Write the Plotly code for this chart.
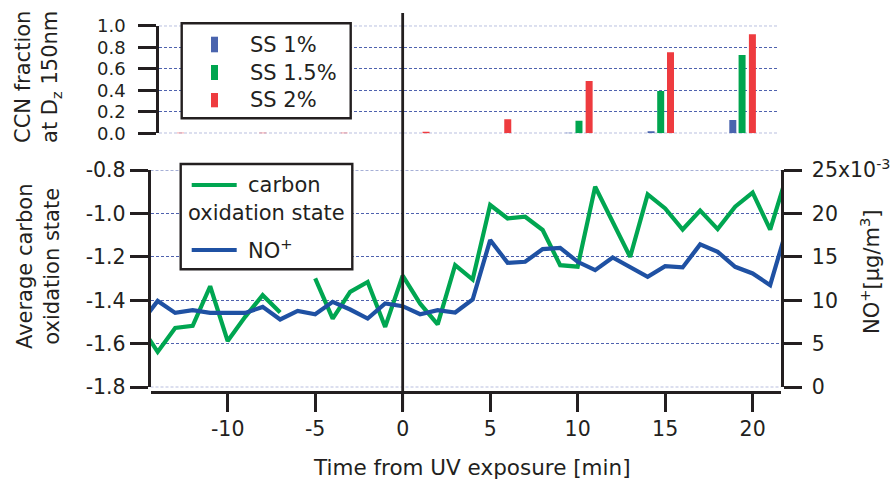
import plotly.graph_objects as go

# ---- data -------------------------------------------------------------
# time axis of the AMS series (minutes from UV exposure)
minutes = list(range(-15, 23))

# average carbon oxidation state (None = missing sample)
carbon_ox = [-1.515, -1.637, -1.527, -1.517, -1.335, -1.587, -1.476, -1.376,
             -1.456, None, -1.299, -1.484, -1.361, -1.315, -1.522, -1.286,
             -1.415, -1.510, -1.238, -1.304, -0.961, -1.023, -1.015, -1.076,
             -1.238, -1.245, -0.877, -1.038, -1.200, -0.912, -0.977, -1.074,
             -0.987, -1.072, -0.969, -0.904, -1.074, -0.813]

# NO+ mass concentration [ug/m3]
no_plus = [0.00728, 0.00994, 0.00856, 0.00887, 0.00856, 0.00856, 0.00856,
           0.00925, 0.00780, 0.00879, 0.00841, 0.00983, 0.00895, 0.00791,
           0.00964, 0.00933, 0.00841, 0.00887, 0.00860, 0.01010, 0.01694,
           0.01432, 0.01444, 0.01590, 0.01605, 0.01444, 0.01348, 0.01494,
           0.01379, 0.01271, 0.01394, 0.01379, 0.01644, 0.01559, 0.01386,
           0.01310, 0.01175, 0.01857]

# CCN activated fraction at Dz = 150 nm, one scan per supersaturation
ss1_time = [-13.85, -9.15, -4.5, 0.18, 4.85, 9.5, 14.19, 18.86]
ss1_frac = [0.0, 0.0, 0.0, 0.0, 0.0, 0.005, 0.019, 0.124]
ss15_time = [-13.3, -8.6, -3.95, 0.73, 5.4, 10.07, 14.74, 19.39]
ss15_frac = [0.0, 0.0, 0.0, 0.0, 0.0, 0.117, 0.393, 0.728]
ss2_time = [-12.7, -8.0, -3.35, 1.33, 6.0, 10.65, 15.3, 19.98]
ss2_frac = [0.004, 0.004, 0.004, 0.012, 0.13, 0.486, 0.753, 0.92]

# tick labels
time_ticks = [-10, -5, 0, 5, 10, 15, 20]
time_labels = ["-10", "-5", "0", "5", "10", "15", "20"]
ox_ticks = [-0.8, -1.0, -1.2, -1.4, -1.6, -1.8]
ox_labels = ["-0.8", "-1.0", "-1.2", "-1.4", "-1.6", "-1.8"]
no_ticks = [0, 0.005, 0.010, 0.015, 0.020, 0.025]
no_labels = ["0", "5", "10", "15", "20", "25x10<sup>-3</sup>"]
ccn_ticks = [0.0, 0.2, 0.4, 0.6, 0.8, 1.0]
ccn_labels = ["0.0", "0.2", "0.4", "0.6", "0.8", "1.0"]

# ---- styling ------------------------------------------------------------
W, H = 892, 481
INK = "#231f20"
GRID = "#4f62ae"
GREEN = "#00a651"
BLUE_LINE = "#1f51a3"
BAR_BLUE = "#4a64ae"
BAR_GREEN = "#00a54f"
BAR_RED = "#ee3b3f"
FONT = "DejaVu Sans"
TICK_SIZE = 20.5
CCN_TICK_SIZE = 18
TEXT_SIZE = 21
GRID_DASH = "3px,2px"


def fx(px):
    return px / W


def fy(py):
    return 1 - py / H


fig = go.Figure()

# bottom panel: oxidation state (left) and NO+ (right)
fig.add_trace(go.Scatter(x=minutes, y=carbon_ox, mode="lines",
                         line=dict(color=GREEN, width=4.2),
                         connectgaps=False, xaxis="x", yaxis="y"))
fig.add_trace(go.Scatter(x=minutes, y=no_plus, mode="lines",
                         line=dict(color=BLUE_LINE, width=4.2),
                         xaxis="x", yaxis="y3"))

# top panel: CCN fraction bars
for t, v, c in [(ss1_time, ss1_frac, BAR_BLUE),
                (ss15_time, ss15_frac, BAR_GREEN),
                (ss2_time, ss2_frac, BAR_RED)]:
    fig.add_trace(go.Bar(x=t, y=v, width=0.4, marker=dict(color=c, line=dict(width=0)),
                         xaxis="x2", yaxis="y2"))


def axis_style(size):
    return dict(showline=True, linecolor=INK, linewidth=2.5, ticks="outside",
                ticklen=18, tickwidth=2.5, tickcolor=INK, zeroline=False,
                automargin=False,
                tickfont=dict(family=FONT, size=size, color=INK))


grid_common = dict(showgrid=True, gridcolor=GRID, gridwidth=1, griddash=GRID_DASH)

OX_RANGE = [-1.8, -0.8]
CCN_RANGE = [0, 1]

fig.update_layout(
    width=W, height=H,
    margin=dict(l=0, r=0, t=0, b=0),
    paper_bgcolor="white", plot_bgcolor="rgba(0,0,0,0)",
    showlegend=False, barmode="overlay",
    font=dict(family=FONT, size=TEXT_SIZE, color=INK),
    xaxis=dict(domain=[fx(150.5), fx(781)], range=[-14.41, 21.62],
               anchor="free", position=fy(392),
               tickvals=time_ticks, ticktext=time_labels, showgrid=False,
               **axis_style(TICK_SIZE)),
    yaxis=dict(domain=[fy(387.3), fy(170)], range=OX_RANGE, anchor="x",
               tickvals=ox_ticks, ticktext=ox_labels, **grid_common,
               **axis_style(TICK_SIZE)),
    yaxis3=dict(overlaying="y", side="right", anchor="x", range=[0, 0.025],
                tickvals=no_ticks, ticktext=no_labels, showgrid=False,
                ticklabelstandoff=6, **axis_style(TICK_SIZE)),
    xaxis2=dict(domain=[fx(159), fx(779)], range=[-13.93, 21.50], anchor="y2",
                visible=False, automargin=False),
    yaxis2=dict(domain=[fy(133.3), fy(25.7)], range=CCN_RANGE, anchor="x2",
                tickvals=ccn_ticks, ticktext=ccn_labels, ticklabelstandoff=9,
                **grid_common, **axis_style(CCN_TICK_SIZE)),
)

shapes = []
# gridlines sitting on the panel edges (plotly skips these itself)
for xr, yr, val in [("x domain", "y", OX_RANGE[0]), ("x domain", "y", OX_RANGE[1]),
                    ("x2 domain", "y2", CCN_RANGE[0]), ("x2 domain", "y2", CCN_RANGE[1])]:
    shapes.append(dict(type="line", xref=xr, yref=yr, x0=0, x1=1, y0=val, y1=val,
                       line=dict(color=GRID, width=1, dash=GRID_DASH), layer="below"))

# exposure start marker spanning both panels
shapes.append(dict(type="line", xref="x", yref="paper", x0=0, x1=0,
                   y0=fy(410.7), y1=fy(13), line=dict(color=INK, width=2.8),
                   layer="above"))

# legend boxes
box = dict(type="rect", xref="paper", yref="paper", line=dict(color=INK, width=2.4),
           fillcolor="white", layer="above")
shapes.append(dict(box, x0=fx(181.7), x1=fx(350.7), y0=fy(118.3), y1=fy(23.3)))
shapes.append(dict(box, x0=fx(180.7), x1=fx(352.3), y0=fy(269.3), y1=fy(164)))

# CCN legend swatches
for (y0, y1), c in [((36.7, 52.3), BAR_BLUE), ((65, 80), BAR_GREEN), ((93, 107.3), BAR_RED)]:
    shapes.append(dict(type="rect", xref="paper", yref="paper", x0=fx(211), x1=fx(218),
                       y0=fy(y1), y1=fy(y0), fillcolor=c, line=dict(width=0),
                       layer="above"))
# line legend swatches
for yy, c in [(185, GREEN), (250, BLUE_LINE)]:
    shapes.append(dict(type="line", xref="paper", yref="paper", x0=fx(191.7), x1=fx(236.7),
                       y0=fy(yy), y1=fy(yy), line=dict(color=c, width=4.2), layer="above"))
fig.update_layout(shapes=shapes)

ann = []


def text(x, y, s, xanchor="left", angle=0, size=TEXT_SIZE):
    ann.append(dict(x=fx(x), y=fy(y), xref="paper", yref="paper", text=s,
                    showarrow=False, xanchor=xanchor, yanchor="middle",
                    textangle=angle, font=dict(family=FONT, size=size, color=INK)))


text(248, 45, "SS 1%")
text(248, 73, "SS 1.5%")
text(248, 100, "SS 2%")
text(246, 185, "carbon")
text(186, 213, "oxidation state")
text(246, 249, "NO<sup>+</sup>")

# axis titles
text(472, 467, "Time from UV exposure [min]", xanchor="center", size=21.5)
text(38, 77, "CCN fraction<br>at D<sub>z</sub> 150nm", xanchor="center", angle=-90)
text(38, 267, "Average carbon<br>oxidation state", xanchor="center", angle=-90)
text(870, 272, "NO<sup>+</sup>[μg/m<sup>3</sup>]", xanchor="center", angle=-90)

fig.update_layout(annotations=ann)

fig.write_html("out.html")
